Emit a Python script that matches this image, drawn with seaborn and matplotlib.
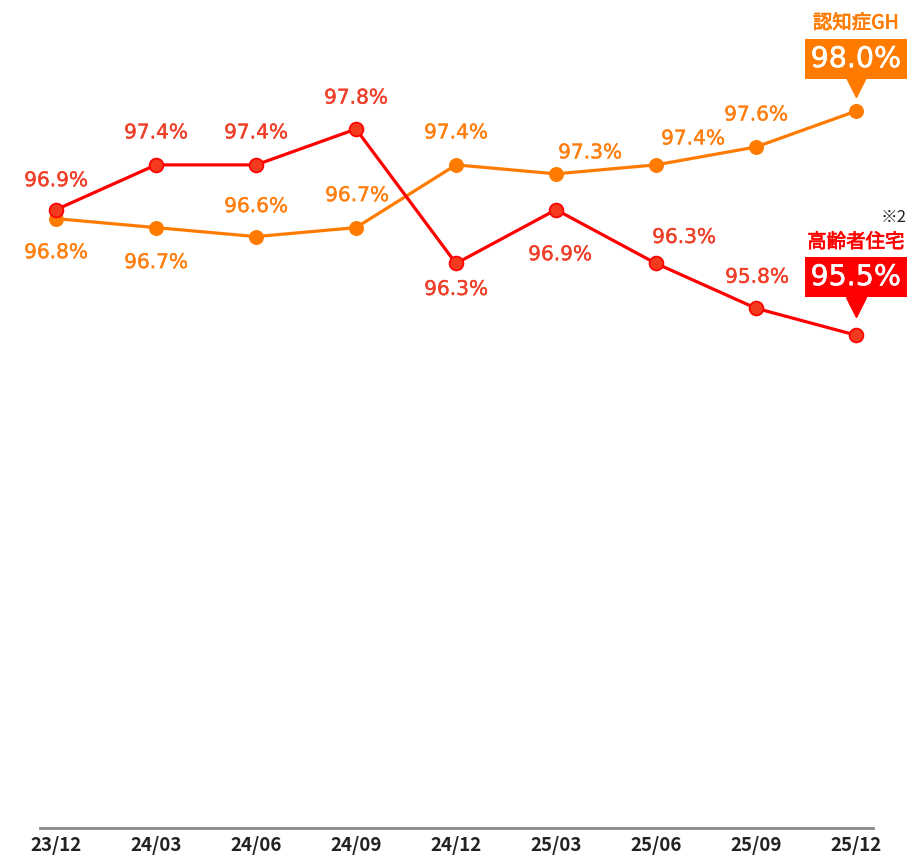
import matplotlib

matplotlib.use("Agg")

import matplotlib.patheffects as pe
import matplotlib.pyplot as plt
import matplotlib.transforms as mtransforms
import pandas as pd
import seaborn as sns

PERIODS = ["23/12", "24/03", "24/06", "24/09", "24/12", "25/03", "25/06", "25/09", "25/12"]
HOUSING = [96.9, 97.4, 97.4, 97.8, 96.3, 96.9, 96.3, 95.8, 95.5]
DEMENTIA_GH = [96.8, 96.7, 96.6, 96.7, 97.4, 97.3, 97.4, 97.6, 98.0]

HOUSING_NAME = "高齢者住宅"
DEMENTIA_NAME = "認知症GH"
NOTE = "※2"

RED = "#ff0000"
RED_TEXT = "#f0402a"
RED_MARKER = "#f23a1e"
ORANGE = "#ff7b00"
ORANGE_TEXT = "#ff7f10"

# label offsets in pixels (dx, dy) relative to each point
HOUSING_OFFSETS = [(0, 29), (0, 32), (0, 32), (0, 31), (0, -26), (4, -45), (28, 26), (1, 31)]
DEMENTIA_OFFSETS = [(0, -34), (0, -35), (0, 30), (1, 32), (0, 32), (34, 21), (37, 26), (0, 32)]

df = pd.DataFrame({
    "idx": list(range(len(PERIODS))) * 2,
    "value": HOUSING + DEMENTIA_GH,
    "series": [HOUSING_NAME] * len(PERIODS) + [DEMENTIA_NAME] * len(PERIODS),
})

sns.set_theme(style="white")
plt.rcParams["font.family"] = ["Noto Sans CJK JP", "DejaVu Sans"]
NUM_FONT = ["DejaVu Sans"]


def thicken(color, width=0.3):
    return [pe.withStroke(linewidth=width, foreground=color)]


fig = plt.figure(figsize=(9.2, 8.55), dpi=100)
ax = fig.add_axes([40 / 920, 27 / 855, 833 / 920, 828 / 855])

sns.lineplot(data=df[df["series"] == DEMENTIA_NAME], x="idx", y="value", color=ORANGE,
             linewidth=2.3, marker="o", markersize=10, markerfacecolor=ORANGE,
             markeredgecolor=ORANGE, ax=ax, zorder=3)
sns.lineplot(data=df[df["series"] == HOUSING_NAME], x="idx", y="value", color=RED,
             linewidth=2.3, marker="o", markersize=10, markerfacecolor=RED_MARKER,
             markeredgecolor=RED, markeredgewidth=1.2, ax=ax, zorder=4)

ax.set_xlim(-0.16, 8.17)
ax.set_ylim(90.0, 99.24)
ax.set_xticks(range(len(PERIODS)))
ax.set_xticklabels(PERIODS, fontsize=13.5, color="#222222", fontweight="bold")
ax.set_yticks([])
ax.set_xlabel("")
ax.set_ylabel("")
ax.tick_params(axis="x", length=0, pad=6)
for side in ["top", "left", "right"]:
    ax.spines[side].set_visible(False)
ax.spines["bottom"].set_color("#888888")
ax.spines["bottom"].set_linewidth(2)

px = 0.72  # points per pixel at dpi 100

for i, (v, (dx, dy)) in enumerate(zip(HOUSING[:-1], HOUSING_OFFSETS)):
    ax.annotate(f"{v:.1f}%", (i, v), xytext=(dx * px, dy * px), textcoords="offset points",
                ha="center", va="center", fontsize=14.5, color=RED_TEXT, family=NUM_FONT,
                path_effects=thicken(RED_TEXT))
for i, (v, (dx, dy)) in enumerate(zip(DEMENTIA_GH[:-1], DEMENTIA_OFFSETS)):
    ax.annotate(f"{v:.1f}%", (i, v), xytext=(dx * px, dy * px), textcoords="offset points",
                ha="center", va="center", fontsize=14.5, color=ORANGE_TEXT, family=NUM_FONT,
                path_effects=thicken(ORANGE_TEXT))

last = len(PERIODS) - 1


def callout(value, color, name, name_dy, box_dy, tip_dy):
    # pointer triangle under the box
    tri = mtransforms.offset_copy(ax.transData, fig=fig, x=0, y=tip_dy * px, units="points")
    ax.plot([last], [value], marker="v", markersize=15, color=color, transform=tri,
            clip_on=False, zorder=5)
    ax.annotate(f"{value:.1f}%", (last, value), xytext=(0, box_dy * px), textcoords="offset points",
                ha="center", va="center", fontsize=20.5, color="white", family=NUM_FONT,
                path_effects=thicken("white", 0.4),
                bbox=dict(boxstyle="square,pad=0.2", fc=color, ec="none"),
                annotation_clip=False, zorder=6)
    ax.annotate(name, (last, value), xytext=(0, name_dy * px), textcoords="offset points",
                ha="center", va="center", fontsize=14, color=color,
                path_effects=thicken(color, 0.5), annotation_clip=False)


callout(DEMENTIA_GH[-1], ORANGE, DEMENTIA_NAME, 88, 52, 24)
callout(HOUSING[-1], RED, HOUSING_NAME, 93, 58, 28)
ax.annotate(NOTE, (last, HOUSING[-1]), xytext=(38 * px, 118 * px), textcoords="offset points",
            ha="center", va="center", fontsize=12, color="#222222", annotation_clip=False)

fig.savefig("out.png", dpi=100)
